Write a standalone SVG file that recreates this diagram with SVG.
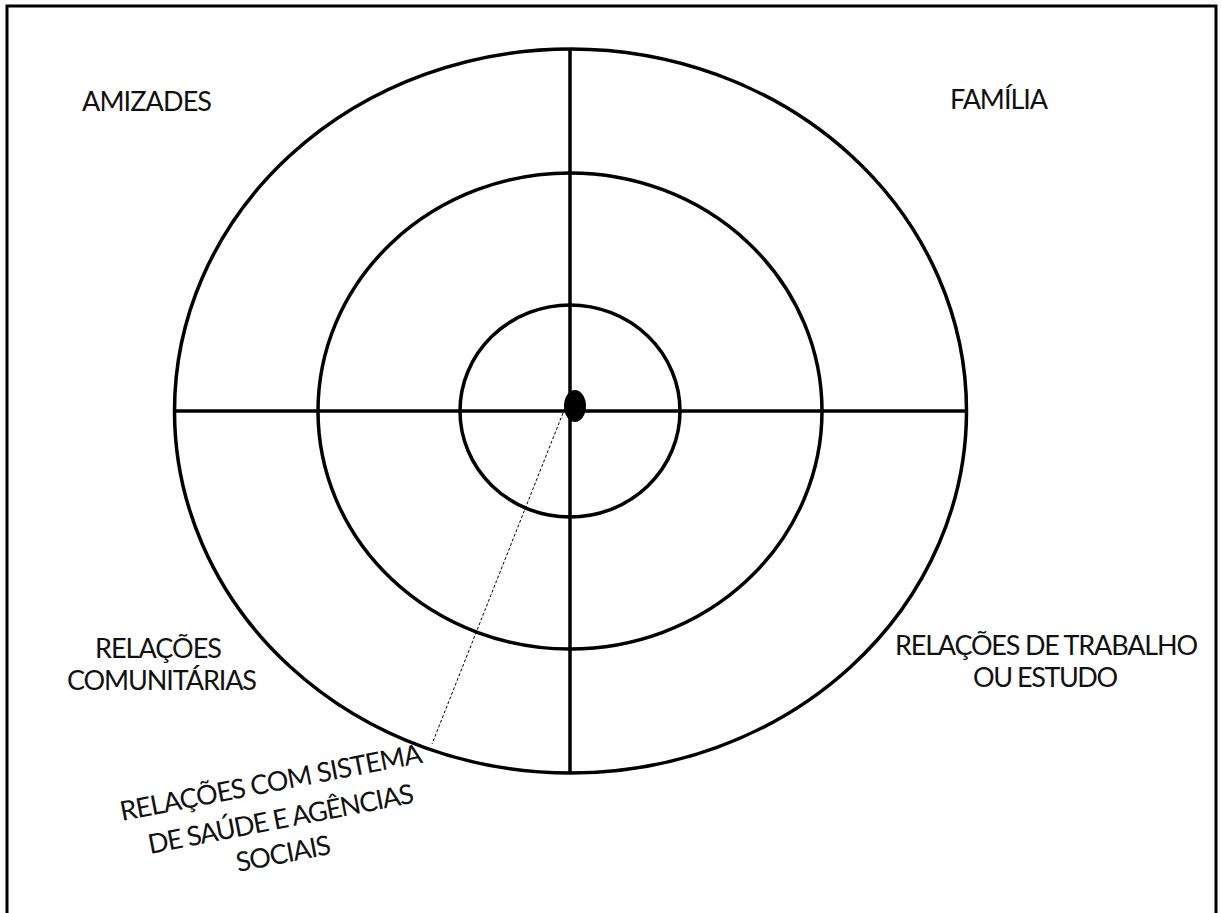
<svg xmlns="http://www.w3.org/2000/svg" width="1221" height="913" viewBox="0 0 1221 913">
<style>
.ring{fill:none;stroke:#000;stroke-width:3.5}
.axis{stroke:#000;stroke-width:3.5}
.lbl{font-family:Lato,"Open Sans","Liberation Sans",sans-serif;font-size:27px;fill:#111}
</style>
<rect width="1221" height="913" fill="#fff"/>
<path d="M7,913 V6 H1216 V913" fill="none" stroke="#000" stroke-width="3"/>
<g id="rings">
<ellipse id="outer" class="ring" cx="570.5" cy="411" rx="396" ry="362"/>
<ellipse id="middle" class="ring" cx="570" cy="411" rx="252" ry="238"/>
<ellipse id="inner" class="ring" cx="570" cy="411" rx="110" ry="106"/>
</g>
<g id="connectors">
<line class="axis" x1="174" y1="411" x2="967" y2="411"/>
<line class="axis" x1="570" y1="48" x2="570" y2="773"/>
<line x1="563" y1="413" x2="432" y2="744" stroke="#000" stroke-width="1" stroke-dasharray="3,2"/>
</g>
<g id="center"><ellipse cx="575" cy="406" rx="11" ry="16" fill="#000"/></g>
<g id="amizades"><text class="lbl" x="82" y="111" textLength="130">AMIZADES</text></g>
<g id="familia"><text class="lbl" x="950" y="109" textLength="98">FAMÍLIA</text></g>
<g id="comunitarias"><text class="lbl" x="95" y="658" textLength="127">RELAÇÕES</text><text class="lbl" x="67" y="690" textLength="190">COMUNITÁRIAS</text></g>
<g id="trabalho"><text class="lbl" x="895" y="655" textLength="303">RELAÇÕES DE TRABALHO</text><text class="lbl" x="973" y="687" textLength="145">OU ESTUDO</text></g>
<g id="saude">
<text class="lbl" transform="translate(122 821) rotate(-11)" textLength="307">RELAÇÕES COM SISTEMA</text>
<text class="lbl" transform="translate(150 854) rotate(-11)" textLength="270">DE SAÚDE E AGÊNCIAS</text>
<text class="lbl" transform="translate(238 872) rotate(-11)" textLength="96">SOCIAIS</text>
</g>
</svg>
